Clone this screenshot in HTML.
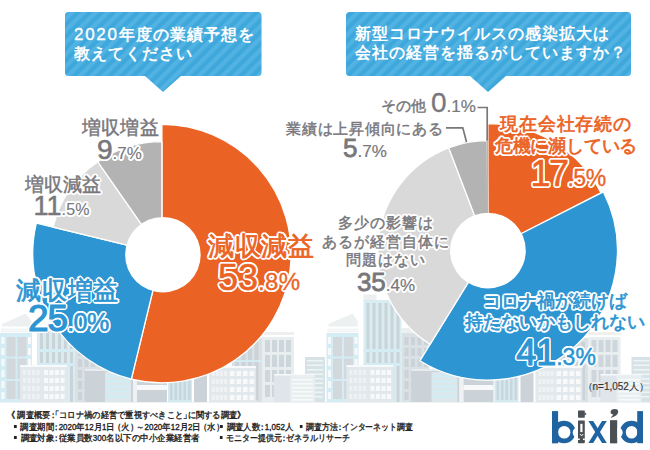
<!DOCTYPE html>
<html><head><meta charset="utf-8">
<style>
html,body{margin:0;padding:0;background:#fff;}
body{width:650px;height:450px;position:relative;overflow:hidden;font-family:"Liberation Sans",sans-serif;}
svg{position:absolute;left:0;top:0;}
.t{position:absolute;white-space:nowrap;line-height:1;}
.q{color:#fff;font-weight:bold;font-size:16px;letter-spacing:1px;line-height:19.5px;}
.q .d{letter-spacing:1.7px;font-weight:normal;font-size:17px;-webkit-text-stroke:0.35px #fff;}
.lb{position:absolute;white-space:nowrap;line-height:1;}
.bk,.bk *{-webkit-text-stroke:0!important;color:#fff!important;}
.bk{text-shadow:1.90px 0.00px 0 #fff,1.76px 0.73px 0 #fff,1.34px 1.34px 0 #fff,0.73px 1.76px 0 #fff,0.00px 1.90px 0 #fff,-0.73px 1.76px 0 #fff,-1.34px 1.34px 0 #fff,-1.76px 0.73px 0 #fff,-1.90px 0.00px 0 #fff,-1.76px -0.73px 0 #fff,-1.34px -1.34px 0 #fff,-0.73px -1.76px 0 #fff,-0.00px -1.90px 0 #fff,0.73px -1.76px 0 #fff,1.34px -1.34px 0 #fff,1.76px -0.73px 0 #fff,0.96px 0.30px 0 #fff,0.47px 0.88px 0 #fff,-0.30px 0.96px 0 #fff,-0.88px 0.47px 0 #fff,-0.96px -0.30px 0 #fff,-0.47px -0.88px 0 #fff,0.30px -0.96px 0 #fff,0.88px -0.47px 0 #fff;}
.o{color:#eb6324;-webkit-text-stroke:0.5px #eb6324;}.b{color:#2d95d2;-webkit-text-stroke:0.5px #2d95d2;}.g{color:#77777c;-webkit-text-stroke:0.5px #77777c;}
.c{text-align:center;}
.n{-webkit-text-stroke-width:0.45px;}
.o,.b{-webkit-text-stroke-width:0.7px;}.g{-webkit-text-stroke-width:0.45px;}
.ft{position:absolute;white-space:nowrap;line-height:1;font-size:8.5px;color:#222;transform-origin:0 0;font-feature-settings:"palt";-webkit-text-stroke:0.35px #222;}
</style></head><body>
<svg width="650" height="450" viewBox="0 0 650 450">
<defs>
<pattern id="st" patternUnits="userSpaceOnUse" width="8.418" height="20" patternTransform="rotate(45) translate(6.976,0)">
<rect width="8.418" height="20" fill="#3ea8dc"/>
<rect width="4.209" height="20" fill="#52b2e2"/>
</pattern>
</defs>
<g id="per"><rect x="37" y="330" width="38" height="72" fill="#d9ecf2"/>
<rect x="40" y="330" width="3" height="72" fill="#c9d3d8"/>
<rect x="46" y="330" width="3" height="72" fill="#c9d3d8"/>
<rect x="52" y="330" width="3" height="72" fill="#c9d3d8"/>
<rect x="58" y="330" width="3" height="72" fill="#c9d3d8"/>
<rect x="64" y="330" width="3" height="72" fill="#c9d3d8"/>
<rect x="70" y="330" width="3" height="72" fill="#c9d3d8"/>
<rect x="37" y="349" width="38" height="3" fill="#d4ecf3"/>
<rect x="37" y="363" width="38" height="3" fill="#d4ecf3"/>
<rect x="75" y="328" width="26" height="5" fill="#eceff0"/>
<rect x="75" y="333" width="28" height="69" fill="#d9e1e5"/>
<rect x="78.0" y="337" width="4" height="8" fill="#cbd3d8"/>
<rect x="78.0" y="348" width="4" height="8" fill="#cbd3d8"/>
<rect x="78.0" y="359" width="4" height="8" fill="#cbd3d8"/>
<rect x="78.0" y="370" width="4" height="8" fill="#cbd3d8"/>
<rect x="78.0" y="381" width="4" height="8" fill="#cbd3d8"/>
<rect x="78.0" y="392" width="4" height="8" fill="#cbd3d8"/>
<rect x="84.5" y="337" width="4" height="8" fill="#cbd3d8"/>
<rect x="84.5" y="348" width="4" height="8" fill="#cbd3d8"/>
<rect x="84.5" y="359" width="4" height="8" fill="#cbd3d8"/>
<rect x="84.5" y="370" width="4" height="8" fill="#cbd3d8"/>
<rect x="84.5" y="381" width="4" height="8" fill="#cbd3d8"/>
<rect x="84.5" y="392" width="4" height="8" fill="#cbd3d8"/>
<rect x="91.0" y="337" width="4" height="8" fill="#cbd3d8"/>
<rect x="91.0" y="348" width="4" height="8" fill="#cbd3d8"/>
<rect x="91.0" y="359" width="4" height="8" fill="#cbd3d8"/>
<rect x="91.0" y="370" width="4" height="8" fill="#cbd3d8"/>
<rect x="91.0" y="381" width="4" height="8" fill="#cbd3d8"/>
<rect x="91.0" y="392" width="4" height="8" fill="#cbd3d8"/>
<rect x="97.5" y="337" width="4" height="8" fill="#cbd3d8"/>
<rect x="97.5" y="348" width="4" height="8" fill="#cbd3d8"/>
<rect x="97.5" y="359" width="4" height="8" fill="#cbd3d8"/>
<rect x="97.5" y="370" width="4" height="8" fill="#cbd3d8"/>
<rect x="97.5" y="381" width="4" height="8" fill="#cbd3d8"/>
<rect x="97.5" y="392" width="4" height="8" fill="#cbd3d8"/>
<path d="M2,326.5 L31.2,326.5 L31.2,321 L26,313.5 L18,317 L2,324 Z" fill="#edf0f1"/>
<rect x="1" y="328.5" width="31" height="4" fill="#f3f5f6"/>
<rect x="0" y="333" width="32" height="69" fill="#d4ecf3"/>
<rect x="6" y="336" width="21" height="64" fill="#d4ecf3"/>
<rect x="6.5" y="337" width="9" height="62" fill="#d2d8dc"/>
<rect x="17.5" y="337" width="9" height="62" fill="#d2d8dc"/>
<rect x="6" y="356.5" width="21" height="2" fill="#d4ecf3"/>
<rect x="6" y="379" width="21" height="2" fill="#d4ecf3"/>
<rect x="1.5" y="337" width="3" height="7" fill="#f7f9fa"/>
<rect x="28" y="337" width="3" height="7" fill="#f7f9fa"/>
<rect x="1.5" y="348" width="3" height="7" fill="#f7f9fa"/>
<rect x="28" y="348" width="3" height="7" fill="#f7f9fa"/>
<rect x="1.5" y="359" width="3" height="7" fill="#f7f9fa"/>
<rect x="28" y="359" width="3" height="7" fill="#f7f9fa"/>
<rect x="1.5" y="370" width="3" height="7" fill="#f7f9fa"/>
<rect x="28" y="370" width="3" height="7" fill="#f7f9fa"/>
<rect x="1.5" y="381" width="3" height="7" fill="#f7f9fa"/>
<rect x="28" y="381" width="3" height="7" fill="#f7f9fa"/>
<rect x="1.5" y="392" width="3" height="7" fill="#f7f9fa"/>
<rect x="28" y="392" width="3" height="7" fill="#f7f9fa"/>
<rect x="20" y="365" width="47" height="37" fill="#e2e8eb"/>
<rect x="20" y="365" width="47" height="2" fill="#f7f9fa"/>
<rect x="23.0" y="370" width="3" height="5" fill="#eef2f4"/>
<rect x="27.5" y="370" width="3" height="5" fill="#eef2f4"/>
<rect x="32.0" y="370" width="3" height="5" fill="#eef2f4"/>
<rect x="36.5" y="370" width="3" height="5" fill="#eef2f4"/>
<rect x="44.0" y="370" width="4" height="5" fill="#f7f9fa"/>
<rect x="49.5" y="370" width="4" height="5" fill="#f7f9fa"/>
<rect x="55.0" y="370" width="4" height="5" fill="#f7f9fa"/>
<rect x="60.5" y="370" width="4" height="5" fill="#f7f9fa"/>
<rect x="23.0" y="378" width="3" height="5" fill="#eef2f4"/>
<rect x="27.5" y="378" width="3" height="5" fill="#eef2f4"/>
<rect x="32.0" y="378" width="3" height="5" fill="#eef2f4"/>
<rect x="36.5" y="378" width="3" height="5" fill="#eef2f4"/>
<rect x="44.0" y="378" width="4" height="5" fill="#f7f9fa"/>
<rect x="49.5" y="378" width="4" height="5" fill="#f7f9fa"/>
<rect x="55.0" y="378" width="4" height="5" fill="#f7f9fa"/>
<rect x="60.5" y="378" width="4" height="5" fill="#f7f9fa"/>
<rect x="23.0" y="386" width="3" height="5" fill="#eef2f4"/>
<rect x="27.5" y="386" width="3" height="5" fill="#eef2f4"/>
<rect x="32.0" y="386" width="3" height="5" fill="#eef2f4"/>
<rect x="36.5" y="386" width="3" height="5" fill="#eef2f4"/>
<rect x="44.0" y="386" width="4" height="5" fill="#f7f9fa"/>
<rect x="49.5" y="386" width="4" height="5" fill="#f7f9fa"/>
<rect x="55.0" y="386" width="4" height="5" fill="#f7f9fa"/>
<rect x="60.5" y="386" width="4" height="5" fill="#f7f9fa"/>
<rect x="23.0" y="394" width="3" height="5" fill="#eef2f4"/>
<rect x="27.5" y="394" width="3" height="5" fill="#eef2f4"/>
<rect x="32.0" y="394" width="3" height="5" fill="#eef2f4"/>
<rect x="36.5" y="394" width="3" height="5" fill="#eef2f4"/>
<rect x="44.0" y="394" width="4" height="5" fill="#f7f9fa"/>
<rect x="49.5" y="394" width="4" height="5" fill="#f7f9fa"/>
<rect x="55.0" y="394" width="4" height="5" fill="#f7f9fa"/>
<rect x="60.5" y="394" width="4" height="5" fill="#f7f9fa"/>
<rect x="85" y="370" width="48" height="32" fill="#cbd3d8"/>
<rect x="85" y="369" width="48" height="2" fill="#e6ebee"/>
<rect x="105" y="372" width="26" height="30" fill="#dde6ea"/>
<rect x="106" y="375" width="24" height="2.5" fill="#d1edf4"/>
<rect x="106" y="380" width="24" height="2.5" fill="#d1edf4"/>
<rect x="106" y="385" width="24" height="2.5" fill="#d1edf4"/>
<rect x="106" y="390" width="24" height="2.5" fill="#d1edf4"/>
<rect x="106" y="395" width="24" height="2.5" fill="#d1edf4"/>
<rect x="133" y="372" width="4" height="30" fill="#eef2f4"/>
<rect x="137" y="375" width="30" height="27" fill="#cbd3d8"/>
<rect x="137" y="385" width="30" height="5" fill="#f7f9fa"/>
<rect x="168" y="365" width="24" height="37" fill="#d3eaf1"/>
<rect x="170.0" y="368" width="2.5" height="32" fill="#c9d6dc"/>
<rect x="174.5" y="368" width="2.5" height="32" fill="#c9d6dc"/>
<rect x="179.0" y="368" width="2.5" height="32" fill="#c9d6dc"/>
<rect x="183.5" y="368" width="2.5" height="32" fill="#c9d6dc"/>
<rect x="188.0" y="368" width="2.5" height="32" fill="#c9d6dc"/>
<rect x="194" y="365" width="13" height="37" fill="#cbd3d8"/>
<rect x="232" y="338" width="30" height="64" fill="#d9e1e5"/>
<rect x="235.0" y="342" width="4" height="58" fill="#cbd3d8"/>
<rect x="241.5" y="342" width="4" height="58" fill="#cbd3d8"/>
<rect x="248.0" y="342" width="4" height="58" fill="#cbd3d8"/>
<rect x="254.5" y="342" width="4" height="58" fill="#cbd3d8"/>
<rect x="232" y="360" width="30" height="2" fill="#d4ecf3"/>
<rect x="209" y="366" width="47" height="36" fill="#e2e8eb"/>
<rect x="209" y="366" width="47" height="2" fill="#f7f9fa"/>
<rect x="212" y="371" width="3" height="5" fill="#eef2f4"/>
<rect x="216" y="371" width="3" height="5" fill="#eef2f4"/>
<rect x="220" y="371" width="3" height="5" fill="#eef2f4"/>
<rect x="224" y="371" width="3" height="5" fill="#eef2f4"/>
<rect x="230.0" y="371" width="4.5" height="5" fill="#f7f9fa"/>
<rect x="236.5" y="371" width="4.5" height="5" fill="#f7f9fa"/>
<rect x="243.0" y="371" width="4.5" height="5" fill="#f7f9fa"/>
<rect x="249.5" y="371" width="4.5" height="5" fill="#f7f9fa"/>
<rect x="212" y="379" width="3" height="5" fill="#eef2f4"/>
<rect x="216" y="379" width="3" height="5" fill="#eef2f4"/>
<rect x="220" y="379" width="3" height="5" fill="#eef2f4"/>
<rect x="224" y="379" width="3" height="5" fill="#eef2f4"/>
<rect x="230.0" y="379" width="4.5" height="5" fill="#f7f9fa"/>
<rect x="236.5" y="379" width="4.5" height="5" fill="#f7f9fa"/>
<rect x="243.0" y="379" width="4.5" height="5" fill="#f7f9fa"/>
<rect x="249.5" y="379" width="4.5" height="5" fill="#f7f9fa"/>
<rect x="212" y="387" width="3" height="5" fill="#eef2f4"/>
<rect x="216" y="387" width="3" height="5" fill="#eef2f4"/>
<rect x="220" y="387" width="3" height="5" fill="#eef2f4"/>
<rect x="224" y="387" width="3" height="5" fill="#eef2f4"/>
<rect x="230.0" y="387" width="4.5" height="5" fill="#f7f9fa"/>
<rect x="236.5" y="387" width="4.5" height="5" fill="#f7f9fa"/>
<rect x="243.0" y="387" width="4.5" height="5" fill="#f7f9fa"/>
<rect x="249.5" y="387" width="4.5" height="5" fill="#f7f9fa"/>
<rect x="212" y="395" width="3" height="5" fill="#eef2f4"/>
<rect x="216" y="395" width="3" height="5" fill="#eef2f4"/>
<rect x="220" y="395" width="3" height="5" fill="#eef2f4"/>
<rect x="224" y="395" width="3" height="5" fill="#eef2f4"/>
<rect x="230.0" y="395" width="4.5" height="5" fill="#f7f9fa"/>
<rect x="236.5" y="395" width="4.5" height="5" fill="#f7f9fa"/>
<rect x="243.0" y="395" width="4.5" height="5" fill="#f7f9fa"/>
<rect x="249.5" y="395" width="4.5" height="5" fill="#f7f9fa"/>
<rect x="262" y="332" width="32" height="3" fill="#f1eeee"/>
<rect x="262" y="337" width="32" height="65" fill="#e8edf0"/>
<rect x="265" y="340" width="5" height="12" fill="#cdd6db"/>
<rect x="265" y="355" width="5" height="12" fill="#cdd6db"/>
<rect x="265" y="370" width="5" height="12" fill="#cdd6db"/>
<rect x="265" y="385" width="5" height="12" fill="#cdd6db"/>
<rect x="272" y="340" width="5" height="12" fill="#cdd6db"/>
<rect x="272" y="355" width="5" height="12" fill="#cdd6db"/>
<rect x="272" y="370" width="5" height="12" fill="#cdd6db"/>
<rect x="272" y="385" width="5" height="12" fill="#cdd6db"/>
<rect x="279" y="340" width="5" height="12" fill="#cdd6db"/>
<rect x="279" y="355" width="5" height="12" fill="#cdd6db"/>
<rect x="279" y="370" width="5" height="12" fill="#cdd6db"/>
<rect x="279" y="385" width="5" height="12" fill="#cdd6db"/>
<rect x="286" y="340" width="5" height="12" fill="#cdd6db"/>
<rect x="286" y="355" width="5" height="12" fill="#cdd6db"/>
<rect x="286" y="370" width="5" height="12" fill="#cdd6db"/>
<rect x="286" y="385" width="5" height="12" fill="#cdd6db"/>
<rect x="305" y="357" width="20" height="45" fill="#d7e2e6"/>
<rect x="307" y="360.0" width="16" height="1.5" fill="#eef5f7"/>
<rect x="307" y="364.5" width="16" height="1.5" fill="#eef5f7"/>
<rect x="307" y="369.0" width="16" height="1.5" fill="#eef5f7"/>
<rect x="307" y="373.5" width="16" height="1.5" fill="#eef5f7"/>
<rect x="307" y="378.0" width="16" height="1.5" fill="#eef5f7"/>
<rect x="307" y="382.5" width="16" height="1.5" fill="#eef5f7"/>
<rect x="307" y="387.0" width="16" height="1.5" fill="#eef5f7"/>
<rect x="307" y="391.5" width="16" height="1.5" fill="#eef5f7"/>
<rect x="307" y="396.0" width="16" height="1.5" fill="#eef5f7"/>
<rect x="274" y="374" width="41" height="28" fill="#dfe5ea"/>
<rect x="274" y="374" width="41" height="1.5" fill="#f7f9fa"/>
<rect x="290" y="376" width="25" height="26" fill="#e9eef1"/>
<rect x="292" y="379" width="21" height="1.5" fill="#f7f9fa"/>
<rect x="292" y="383" width="21" height="1.5" fill="#f7f9fa"/>
<rect x="292" y="387" width="21" height="1.5" fill="#f7f9fa"/>
<rect x="292" y="391" width="21" height="1.5" fill="#f7f9fa"/>
<rect x="292" y="395" width="21" height="1.5" fill="#f7f9fa"/>
<rect x="292" y="399" width="21" height="1.5" fill="#f7f9fa"/>
<rect x="0" y="402" width="650" height="1" fill="#eef2f4"/></g><use href="#per" x="326.5"/><rect x="363.5" y="294.5" width="13" height="6" fill="#eceff0"/><rect x="363.5" y="300" width="38" height="30" fill="#d9ecf2"/><rect x="366.5" y="303" width="3" height="27" fill="#c9d3d8"/><rect x="372.5" y="303" width="3" height="27" fill="#c9d3d8"/><rect x="378.5" y="303" width="3" height="27" fill="#c9d3d8"/><rect x="384.5" y="303" width="3" height="27" fill="#c9d3d8"/><rect x="390.5" y="303" width="3" height="27" fill="#c9d3d8"/><rect x="396.5" y="303" width="3" height="27" fill="#c9d3d8"/>
<path d="M68.5,12 H258.0 a3.5,3.5 0 0 1 3.5,3.5 V72.5 a3.5,3.5 0 0 1 -3.5,3.5 H181 L163,92 L145,76 H68.5 a3.5,3.5 0 0 1 -3.5,-3.5 V15.5 a3.5,3.5 0 0 1 3.5,-3.5 Z" fill="url(#st)"/>
<path d="M349.5,12 H627.5 a3.5,3.5 0 0 1 3.5,3.5 V72.5 a3.5,3.5 0 0 1 -3.5,3.5 H506 L488,92 L470,76 H349.5 a3.5,3.5 0 0 1 -3.5,-3.5 V15.5 a3.5,3.5 0 0 1 3.5,-3.5 Z" fill="url(#st)"/>
<g stroke="#fff" stroke-width="1.3" stroke-linejoin="round">
<path d="M161.90,253.60 L161.90,124.40 A129.2,129.2 0 1 1 131.34,379.13 Z" fill="#eb6324"/>
<path d="M161.90,253.60 L131.34,379.13 A129.2,129.2 0 0 1 36.37,223.04 Z" fill="#2d95d2"/>
<path d="M161.90,253.60 L53.08,227.11 A112,112 0 0 1 97.79,161.77 Z" fill="#d9d9d9"/>
<path d="M161.90,253.60 L97.79,161.77 A112,112 0 0 1 161.90,141.60 Z" fill="#b3b3b3"/>
</g>
<circle cx="162.9" cy="254.7" r="37.8" fill="#fff"/>
<g stroke="#fff" stroke-width="1.3" stroke-linejoin="round">
<path d="M487.90,250.60 L487.90,123.60 A127,127 0 0 1 601.06,192.94 Z" fill="#eb6324"/>
<path d="M487.90,250.60 L603.29,191.81 A129.5,129.5 0 0 1 419.89,360.80 Z" fill="#2d95d2"/>
<path d="M487.90,250.60 L430.13,344.21 A110,110 0 0 1 448.69,147.82 Z" fill="#d9d9d9"/>
<path d="M487.90,250.60 L448.69,147.82 A110,110 0 0 1 487.21,140.60 Z" fill="#b3b3b3"/>
</g>
<circle cx="487.9" cy="250.6" r="37.9" fill="#fff"/>
<polyline points="477,107.5 487.2,107.5 487.2,141" fill="none" stroke="#77777c" stroke-width="1.7"/><line x1="487.3" y1="140" x2="487.3" y2="213" stroke="#a9a9a9" stroke-width="1.1"/>
<polyline points="446,127.8 462.8,127.8 466.5,142" fill="none" stroke="#77777c" stroke-width="1.7"/>
<g id="logo">
<rect x="552" y="411.1" width="6.1" height="32.1" fill="#1f64a0"/>
<path fill-rule="evenodd" fill="#1f64a0" d="M564,420.8 a11.5,11.2 0 1 1 0,22.4 a11.5,11.2 0 1 1 0,-22.4 Z M564.2,426 a6.2,6.3 0 1 0 0,12.6 a6.2,6.3 0 1 0 0,-12.6 Z"/>
<rect x="552" y="430" width="6.1" height="13.2" fill="#1f64a0"/>
<circle cx="578.3" cy="432.6" r="5.6" fill="#fff"/>
<rect x="578" y="410.4" width="6.8" height="7.3" rx="0.6" fill="#4b5055"/>
<path d="M584.6,412.3 L586.7,413.9 L584.6,415.4 Z" fill="#4b5055"/>
<rect x="578" y="420.4" width="6.8" height="22.8" rx="0.6" fill="#4b5055"/>
<rect x="580.3" y="423.8" width="2.2" height="8.3" fill="#fff"/>
<path d="M579.8,434.6 h1.2 v1 h1.2 v-1 h1.2" stroke="#fff" stroke-width="0.7" fill="none"/>
<path d="M578,438.5 h1.8 v1.5 h-1.8 Z M584.8,438.5 h-1.8 v1.5 h1.8 Z" fill="#fff"/>
<path d="M588.4,421 L593.2,421 L606.8,443 L602,443 Z" fill="#1f64a0"/>
<path d="M602,421 L606.8,421 L593.2,443 L588.4,443 Z" fill="#1f64a0"/>
<path d="M611.2,417.8 C614.5,417 618.2,414.8 618.2,411.6 C618.2,409.9 616.8,409.1 614.8,409.1 C612.2,409.1 610.6,410.3 610.6,412.2 C610.6,413.6 611.6,414.3 613.2,414.5 C612.8,415.6 611.9,416.6 610.8,417.2 Z" fill="#4b5055"/>
<rect x="610.1" y="420.4" width="7" height="22.8" fill="#4b5055"/>
<path fill-rule="evenodd" fill="#1f64a0" d="M631.5,420.8 a11.5,11.2 0 1 1 0,22.4 a11.5,11.2 0 1 1 0,-22.4 Z M631.6,426 a5.8,6.3 0 1 0 0,12.6 a5.8,6.3 0 1 0 0,-12.6 Z"/>
<rect x="637.2" y="411.1" width="5.8" height="32.1" fill="#1f64a0"/>
<circle cx="617.3" cy="432.6" r="5.4" fill="#fff"/>
<rect x="610.1" y="420.4" width="7" height="22.8" fill="#4b5055"/>
</g>
</svg>
<div id="q1" class="t q" style="left:74px;top:24.5px;"><span class="d">2020</span>年度の業績予想を<br>教えてください</div>
<div id="q2" class="t q" style="left:354.5px;top:23.5px;">新型コロナウイルスの感染拡大は<br>会社の経営を揺るがしていますか？</div>
<div class="lb bk" style="left:82px;top:118px;font-size:19px;letter-spacing:0.2px;">増収増益</div>
<div id="l1" class="lb g" style="left:82px;top:118px;font-size:19px;letter-spacing:0.2px;">増収増益</div>
<div class="lb bk" style="left:97px;top:136px;"><span style="font-size:28px;letter-spacing:0px;-webkit-text-stroke-width:0.6px">9</span><span style="font-size:17px;letter-spacing:0px;-webkit-text-stroke-width:0.1px">.7%</span></div>
<div id="l1n" class="lb g n" style="left:97px;top:136px;"><span style="font-size:28px;letter-spacing:0px;-webkit-text-stroke-width:0.6px">9</span><span style="font-size:17px;letter-spacing:0px;-webkit-text-stroke-width:0.1px">.7%</span></div>
<div class="lb bk" style="left:24.5px;top:174.5px;font-size:19px;letter-spacing:0.2px;">増収減益</div>
<div id="l2" class="lb g" style="left:24.5px;top:174.5px;font-size:19px;letter-spacing:0.2px;">増収減益</div>
<div class="lb bk" style="left:33.5px;top:192.5px;"><span style="font-size:27px;letter-spacing:0px;-webkit-text-stroke-width:0.5px">11</span><span style="font-size:16px;letter-spacing:0.2px;-webkit-text-stroke-width:0.1px">.5%</span></div>
<div id="l2n" class="lb g n" style="left:33.5px;top:192.5px;"><span style="font-size:27px;letter-spacing:0px;-webkit-text-stroke-width:0.5px">11</span><span style="font-size:16px;letter-spacing:0.2px;-webkit-text-stroke-width:0.1px">.5%</span></div>
<div class="lb bk" style="left:16px;top:277.5px;font-size:25px;letter-spacing:0.8px;">減収増益</div>
<div id="l3" class="lb b" style="left:16px;top:277.5px;font-size:25px;letter-spacing:0.8px;">減収増益</div>
<div class="lb bk" style="left:28px;top:300px;"><span style="font-size:37px;letter-spacing:-1px;-webkit-text-stroke-width:1.2px">25</span><span style="font-size:25px;letter-spacing:-0.5px;-webkit-text-stroke-width:0.6px">.0%</span></div>
<div id="l3n" class="lb b n" style="left:28px;top:300px;"><span style="font-size:37px;letter-spacing:-1px;-webkit-text-stroke-width:1.2px">25</span><span style="font-size:25px;letter-spacing:-0.5px;-webkit-text-stroke-width:0.6px">.0%</span></div>
<div class="lb bk" style="left:208px;top:232.5px;font-size:26px;letter-spacing:0.5px;">減収減益</div>
<div id="l4" class="lb o" style="left:208px;top:232.5px;font-size:26px;letter-spacing:0.5px;">減収減益</div>
<div class="lb bk" style="left:218px;top:259.5px;"><span style="font-size:36px;letter-spacing:0px;-webkit-text-stroke-width:0.6px">53</span><span style="font-size:24px;letter-spacing:0.3px;-webkit-text-stroke-width:0.3px">.8%</span></div>
<div id="l4n" class="lb o n" style="left:218px;top:259.5px;"><span style="font-size:36px;letter-spacing:0px;-webkit-text-stroke-width:0.6px">53</span><span style="font-size:24px;letter-spacing:0.3px;-webkit-text-stroke-width:0.3px">.8%</span></div>
<div class="lb bk" style="left:381px;top:98px;font-size:15px;">その他</div>
<div id="r1" class="lb g" style="left:381px;top:98px;font-size:15px;">その他</div>
<div class="lb bk" style="left:431px;top:88.5px;"><span style="font-size:28px;letter-spacing:0px;-webkit-text-stroke-width:0.3px">0</span><span style="font-size:17px;letter-spacing:0px;-webkit-text-stroke-width:0.2px">.1%</span></div>
<div id="r1n" class="lb g n" style="left:431px;top:88.5px;"><span style="font-size:28px;letter-spacing:0px;-webkit-text-stroke-width:0.3px">0</span><span style="font-size:17px;letter-spacing:0px;-webkit-text-stroke-width:0.2px">.1%</span></div>
<div class="lb bk" style="left:286px;top:120.5px;font-size:15px;letter-spacing:0.75px;">業績は上昇傾向にある</div>
<div id="r2" class="lb g" style="left:286px;top:120.5px;font-size:15px;letter-spacing:0.75px;">業績は上昇傾向にある</div>
<div class="lb bk" style="left:343px;top:135px;"><span style="font-size:26px;letter-spacing:0px;-webkit-text-stroke-width:0.8px">5</span><span style="font-size:17px;letter-spacing:0px;-webkit-text-stroke-width:0.2px">.7%</span></div>
<div id="r2n" class="lb g n" style="left:343px;top:135px;"><span style="font-size:26px;letter-spacing:0px;-webkit-text-stroke-width:0.8px">5</span><span style="font-size:17px;letter-spacing:0px;-webkit-text-stroke-width:0.2px">.7%</span></div>
<div class="lb bk c" style="left:286px;width:200px;top:214px;font-size:15px;line-height:18.5px;"><span style="letter-spacing:0.9px">多少の影響は</span><br><span style="letter-spacing:0.9px">あるが経営自体に</span><br><span style="letter-spacing:0.9px">問題はない</span></div>
<div id="r3" class="lb g c" style="left:286px;width:200px;top:214px;font-size:15px;line-height:18.5px;"><span style="letter-spacing:0.9px">多少の影響は</span><br><span style="letter-spacing:0.9px">あるが経営自体に</span><br><span style="letter-spacing:0.9px">問題はない</span></div>
<div class="lb bk c" style="left:316px;width:140px;top:269px;"><span style="font-size:26px;letter-spacing:0px;-webkit-text-stroke-width:0.8px">35</span><span style="font-size:17px;letter-spacing:0px;-webkit-text-stroke-width:0.2px">.4%</span></div>
<div id="r3n" class="lb g c n" style="left:316px;width:140px;top:269px;"><span style="font-size:26px;letter-spacing:0px;-webkit-text-stroke-width:0.8px">35</span><span style="font-size:17px;letter-spacing:0px;-webkit-text-stroke-width:0.2px">.4%</span></div>
<div class="lb bk c" style="left:446px;width:240px;top:114px;font-size:18px;line-height:21.5px;"><span style="letter-spacing:0.8px">現在会社存続の</span><br><span style="letter-spacing:-0.2px">危機に瀕している</span></div>
<div id="r4" class="lb o c" style="left:446px;width:240px;top:114px;font-size:18px;line-height:21.5px;"><span style="letter-spacing:0.8px">現在会社存続の</span><br><span style="letter-spacing:-0.2px">危機に瀕している</span></div>
<div class="lb bk c" style="left:488px;width:160px;top:156px;"><span style="font-size:36px;letter-spacing:-1.5px;-webkit-text-stroke-width:0.6px">17</span><span style="font-size:23px;letter-spacing:-0.5px;-webkit-text-stroke-width:0.3px">.5%</span></div>
<div id="r4n" class="lb o c n" style="left:488px;width:160px;top:156px;"><span style="font-size:36px;letter-spacing:-1.5px;-webkit-text-stroke-width:0.6px">17</span><span style="font-size:23px;letter-spacing:-0.5px;-webkit-text-stroke-width:0.3px">.5%</span></div>
<div class="lb bk c" style="left:435px;width:240px;top:291px;font-size:18px;line-height:21px;"><span style="letter-spacing:0px">コロナ禍が続けば</span><br><span style="letter-spacing:0px">持たないかもしれない</span></div>
<div id="r5" class="lb b c" style="left:435px;width:240px;top:291px;font-size:18px;line-height:21px;"><span style="letter-spacing:0px">コロナ禍が続けば</span><br><span style="letter-spacing:0px">持たないかもしれない</span></div>
<div class="lb bk c" style="left:476px;width:160px;top:334.5px;"><span style="font-size:36px;letter-spacing:0px;-webkit-text-stroke-width:1.1px">41</span><span style="font-size:23px;letter-spacing:0px;-webkit-text-stroke-width:0.5px">.3%</span></div>
<div id="r5n" class="lb b c n" style="left:476px;width:160px;top:334.5px;"><span style="font-size:36px;letter-spacing:0px;-webkit-text-stroke-width:1.1px">41</span><span style="font-size:23px;letter-spacing:0px;-webkit-text-stroke-width:0.5px">.3%</span></div>
<div id="f1" class="ft" style="left:6.7px;top:410.5px;transform:scaleX(0.918)">《 調査概要<span style="margin:0 -2.125px">：</span><span style="margin-left:-4.25px">「</span>コロナ禍の経営で重視すべきこと<span style="margin-right:-4.25px">」</span>に関する調査》</div>
<div id="f2a" class="ft" style="left:12.76px;top:422.5px;transform:scaleX(0.9359)"><span style="display:inline-block;width:3px;height:3px;background:#222;vertical-align:2px;margin:0 4px 0 1px"></span>調査期間<span style="margin:0 -2.125px">：</span>2020年12月1日<span style="margin-left:-2.125px">（</span>火<span style="margin-right:-2.125px">）</span>～2020年12月2日<span style="margin-left:-2.125px">（</span>水<span style="margin-right:-2.125px">）</span></div>
<div id="f2b" class="ft" style="left:219.3px;top:422.5px;transform:scaleX(0.9407)"><span style="display:inline-block;width:3px;height:3px;background:#222;vertical-align:2px;margin:0 4px 0 1px"></span>調査人数<span style="margin:0 -2.125px">：</span>1,052人</div>
<div id="f2c" class="ft" style="left:299.09px;top:422.5px;transform:scaleX(0.8772)"><span style="display:inline-block;width:3px;height:3px;background:#222;vertical-align:2px;margin:0 4px 0 1px"></span>調査方法<span style="margin:0 -2.125px">：</span>インターネット調査</div>
<div id="f3a" class="ft" style="left:12.8px;top:434px;transform:scaleX(0.9421)"><span style="display:inline-block;width:3px;height:3px;background:#222;vertical-align:2px;margin:0 4px 0 1px"></span>調査対象<span style="margin:0 -2.125px">：</span>従業員数300名以下の中小企業経営者</div>
<div id="f3b" class="ft" style="left:219.3px;top:434px;transform:scaleX(0.887)"><span style="display:inline-block;width:3px;height:3px;background:#222;vertical-align:2px;margin:0 4px 0 1px"></span>モニター提供元<span style="margin:0 -2.125px">：</span>ゼネラルリサーチ</div>
<div id="n1" class="ft" style="left:582.5px;top:381.5px;font-size:10px;color:#333;-webkit-text-stroke:0.15px #333;">（n=1,052人）</div>

</body></html>
